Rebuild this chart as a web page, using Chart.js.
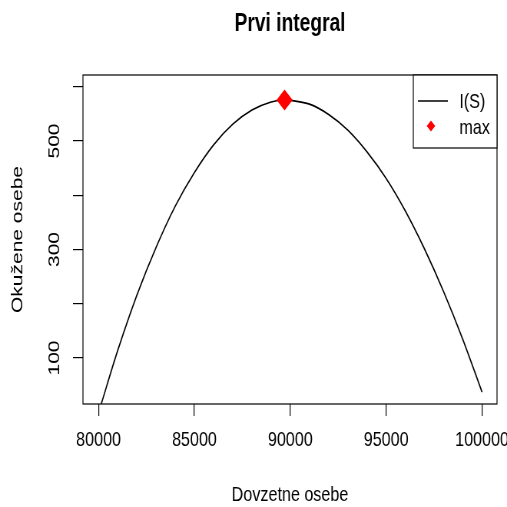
<!DOCTYPE html>
<html>
<head>
<meta charset="utf-8">
<script src="https://cdn.jsdelivr.net/npm/chart.js@4.4.1/dist/chart.umd.min.js"></script>
<style>
  html, body { margin: 0; padding: 0; background: #fff; overflow: hidden; }
</style>
</head>
<body>
<!-- drawn wider, then squeezed to 507px like the original R device -->
<canvas id="plot" width="660" height="507" style="width:507px;height:507px;display:block"></canvas>
<script>
// values
const susceptible = [80120, 81000, 82000, 83000, 84000, 85000, 86000, 87000, 88000, 89000, 89800,
                     90000, 91000, 92000, 93000, 94000, 95000, 96000, 97000, 98000, 99000, 100000];
const infected = [13, 114, 216, 304, 380, 442, 493, 531, 557, 572, 576,
                  575, 568, 549, 520, 480, 431, 371, 301, 222, 134, 37];
const maxS = [89700];
const maxI = [575.5];

const xTicks = [80000, 85000, 90000, 95000, 100000];
const yTicks = [100, 200, 300, 400, 500, 600];
const yLabelled = [100, 300, 500];

Chart.defaults.font.family = '"Liberation Sans", Arial, sans-serif';
Chart.defaults.color = '#000';

const ctx = document.getElementById('plot').getContext('2d');

// box round the plot region
const boxPlugin = {
    id: 'box',
    afterDatasetsDraw(chart) {
        const a = chart.chartArea;
        const c = chart.ctx;
        c.save();
        c.strokeStyle = '#000';
        c.lineWidth = 1.2;
        c.strokeRect(a.left, a.top, a.right - a.left, a.bottom - a.top);
        c.restore();
    }
};

// R style legend in the top right corner
const legendPlugin = {
    id: 'rLegend',
    afterDraw(chart) {
        const a = chart.chartArea;
        const c = chart.ctx;
        const ds = chart.data.datasets;
        const w = 109, h = 73;
        const x0 = a.right - w, y0 = a.top;
        c.save();
        c.fillStyle = '#fff';
        c.fillRect(x0, y0, w, h);
        c.strokeStyle = '#000';
        c.lineWidth = 1.2;
        c.strokeRect(x0, y0, w, h);

        c.strokeStyle = ds[0].borderColor;
        c.lineWidth = ds[0].borderWidth;
        c.beginPath();
        c.moveTo(x0 + 6, y0 + 26);
        c.lineTo(x0 + 45, y0 + 26);
        c.stroke();

        const dx = x0 + 23, dy = y0 + 51, r = 5.5;
        c.fillStyle = ds[1].backgroundColor;
        c.beginPath();
        c.moveTo(dx, dy - r);
        c.lineTo(dx + r, dy);
        c.lineTo(dx, dy + r);
        c.lineTo(dx - r, dy);
        c.closePath();
        c.fill();

        c.fillStyle = '#000';
        c.font = '21px "Liberation Sans", Arial, sans-serif';
        c.textBaseline = 'middle';
        c.fillText(ds[0].label, x0 + 60, y0 + 27);
        c.fillText(ds[1].label, x0 + 60, y0 + 53);
        c.restore();
    }
};

const chart = new Chart(ctx, {
    type: 'line',
    data: {
        datasets: [{
            label: 'I(S)',
            data: susceptible.map((s, i) => ({ x: s, y: infected[i] })),
            borderColor: '#000',
            borderWidth: 1.6,
            pointRadius: 0,
            cubicInterpolationMode: 'monotone',
            order: 1
        }, {
            label: 'max',
            data: maxS.map((s, i) => ({ x: s, y: maxI[i] })),
            showLine: false,
            pointStyle: 'rectRot',
            pointRadius: 10.5,
            backgroundColor: '#ff0000',
            borderColor: '#ff0000',
            borderWidth: 0,
            order: 0
        }]
    },
    options: {
        responsive: false,
        animation: false,
        layout: { padding: { left: 0, right: 13, top: 0, bottom: 0 } },
        plugins: {
            legend: { display: false },
            tooltip: { enabled: false },
            title: {
                display: true,
                text: 'Prvi integral',
                fullSize: false,
                color: '#000',
                font: { size: 25, weight: 'bold' },
                padding: { top: 9, bottom: 36 }
            }
        },
        scales: {
            x: {
                type: 'linear',
                min: 79187,
                max: 100781,
                afterBuildTicks: s => { s.ticks = xTicks.map(v => ({ value: v })); },
                afterFit: s => { s.height = 103; s.paddingLeft = 0; s.paddingRight = 0; },
                grid: { drawOnChartArea: false, tickLength: 12, color: '#000', lineWidth: 1.2 },
                border: { display: false },
                ticks: {
                    autoSkip: false, maxRotation: 0, padding: 12,
                    font: { size: 21 },
                    callback: v => String(v)
                },
                title: {
                    display: true, text: 'Dovzetne osebe',
                    font: { size: 21, lineHeight: 1.1 },
                    padding: { top: 0, bottom: 0 }
                }
            },
            y: {
                type: 'linear',
                min: 15.2,
                max: 621.7,
                afterBuildTicks: s => { s.ticks = yTicks.map(v => ({ value: v })); },
                afterFit: s => { s.width = 108; s.paddingTop = 0; s.paddingBottom = 0; },
                grid: { drawOnChartArea: false, tickLength: 13, color: '#000', lineWidth: 1.2 },
                border: { display: false },
                ticks: {
                    autoSkip: false, minRotation: 90, maxRotation: 90,
                    crossAlign: 'center', padding: 6,
                    font: { size: 21 },
                    callback: v => yLabelled.includes(v) ? String(v) : ''
                },
                title: {
                    display: true, text: 'Okužene osebe',
                    font: { size: 21 },
                    padding: { top: 11 }
                }
            }
        }
    },
    plugins: [boxPlugin, legendPlugin]
});
</script>
</body>
</html>
